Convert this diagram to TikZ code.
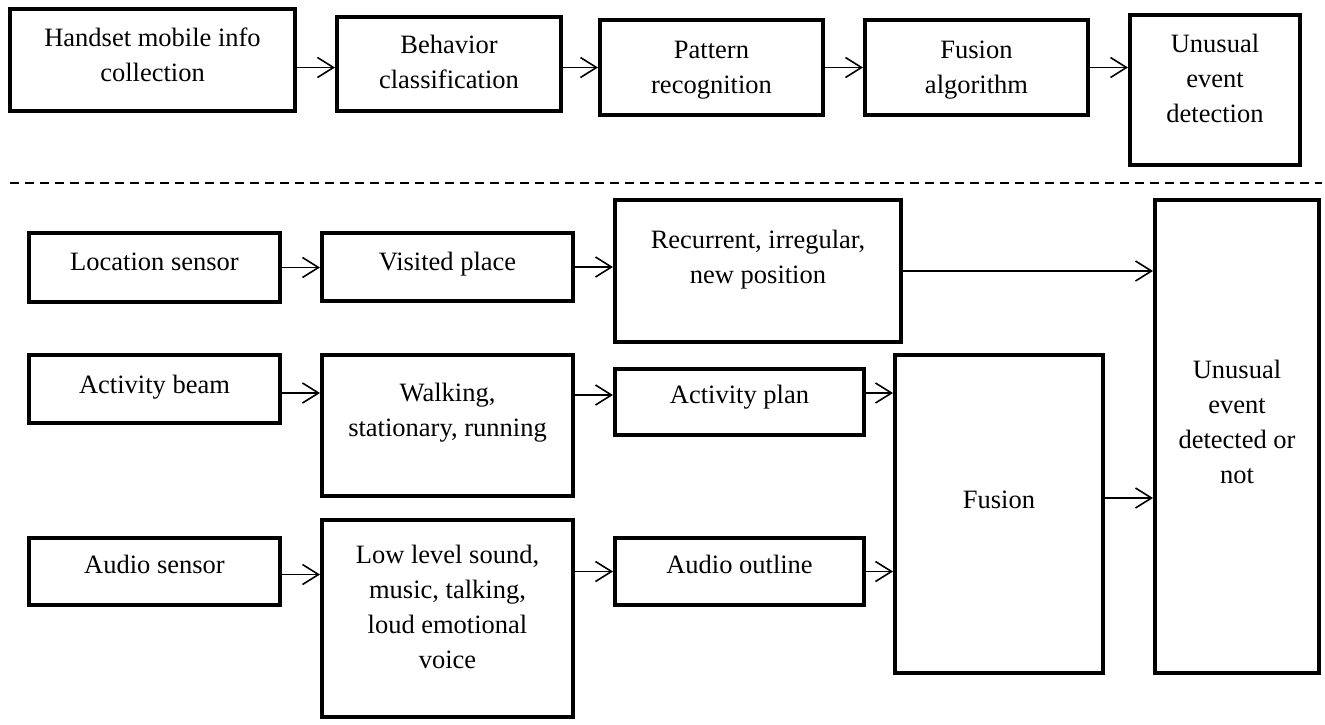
\documentclass[tikz,border=0pt]{standalone}
\usepackage{fontspec}
\setmainfont{Liberation Serif}
\usetikzlibrary{arrows.meta}

\begin{document}
\begin{tikzpicture}[x=1pt, y=-1pt,
  blk/.style={draw, line width=4pt, anchor=north, align=center, inner sep=0pt, font=\fontsize{26.5pt}{35pt}\selectfont},
  arr/.style={-{Straight Barb[length=16pt, width=20pt]}, line width=1.6pt}]
\useasboundingbox (0,0) rectangle (1325,724);
\node[blk, minimum width=285pt, text height=72pt, text depth=30pt] (hand) at (152.5,7) {Handset mobile info\\collection};
\node[blk, minimum width=224pt, text height=71pt, text depth=23pt] (behav) at (449,15) {Behavior\\classification};
\node[blk, minimum width=223pt, text height=73pt, text depth=22pt] (patt) at (711.5,18) {Pattern\\recognition};
\node[blk, minimum width=223pt, text height=73pt, text depth=22pt] (fusalg) at (976.5,18) {Fusion\\algorithm};
\node[blk, minimum width=170pt, text height=107pt, text depth=43pt] (unusual) at (1215,13) {Unusual\\event\\detection};
\draw[arr] (hand.east |- patt) -- (behav.west |- patt);
\draw[arr] (behav.east |- patt) -- (patt.west);
\draw[arr] (patt.east) -- (fusalg.west);
\draw[arr] (fusalg.east) -- (unusual.west |- fusalg);
\draw[line width=1.5pt, dash pattern=on 9pt off 6pt] (10,183) -- (1322,183);
\node[blk, minimum width=251pt, text height=37pt, text depth=32pt] (loc) at (154.5,231) {Location sensor};
\node[blk, minimum width=251pt, text height=37pt, text depth=31pt] (visit) at (447.5,231) {Visited place};
\node[blk, minimum width=286pt, text height=83pt, text depth=59pt] (recur) at (758,198) {Recurrent, irregular,\\new position};
\node[blk, minimum width=164pt, text height=283pt, text depth=190pt] (result) at (1237,198) {Unusual\\event\\detected or\\not};
\node[blk, minimum width=251pt, text height=38pt, text depth=30pt] (act) at (154.5,353) {Activity beam};
\node[blk, minimum width=251pt, text height=81pt, text depth=60pt] (walk) at (447.5,353) {Walking,\\stationary, running};
\node[blk, minimum width=249pt, text height=34pt, text depth=32pt] (plan) at (739.5,367) {Activity plan};
\node[blk, minimum width=208pt, text height=153pt, text depth=165pt] (fusion) at (999,353) {Fusion};
\node[blk, minimum width=251pt, text height=35pt, text depth=32pt] (aud) at (154.5,536) {Audio sensor};
\node[blk, minimum width=251pt, text height=148pt, text depth=49pt] (low) at (447.5,518) {Low level sound,\\music, talking,\\loud emotional\\voice};
\node[blk, minimum width=249pt, text height=35pt, text depth=32pt] (outl) at (739.5,536) {Audio outline};
\draw[arr] (loc.east) -- (loc.east -| visit.west);
\draw[arr] (visit.east) -- (visit.east -| recur.west);
\draw[arr] (recur.east) -- (recur.east -| result.west);
\draw[arr] ([yshift=-4pt]act.east) -- ([yshift=32.5pt]walk.west);
\draw[arr] ([yshift=30.5pt]walk.east) -- ([yshift=7pt]plan.west);
\draw[arr] ([yshift=9pt]plan.east) -- ([yshift=121pt]fusion.west);
\draw[arr] ([yshift=-3pt]aud.east) -- ([yshift=44pt]low.west);
\draw[arr] (low.east |- outl) -- (outl.west);
\draw[arr] (outl.east) -- (outl.east -| fusion.west);
\draw[arr] ([yshift=16pt]fusion.east) -- ([yshift=-61.5pt]result.west);
\end{tikzpicture}
\end{document}
